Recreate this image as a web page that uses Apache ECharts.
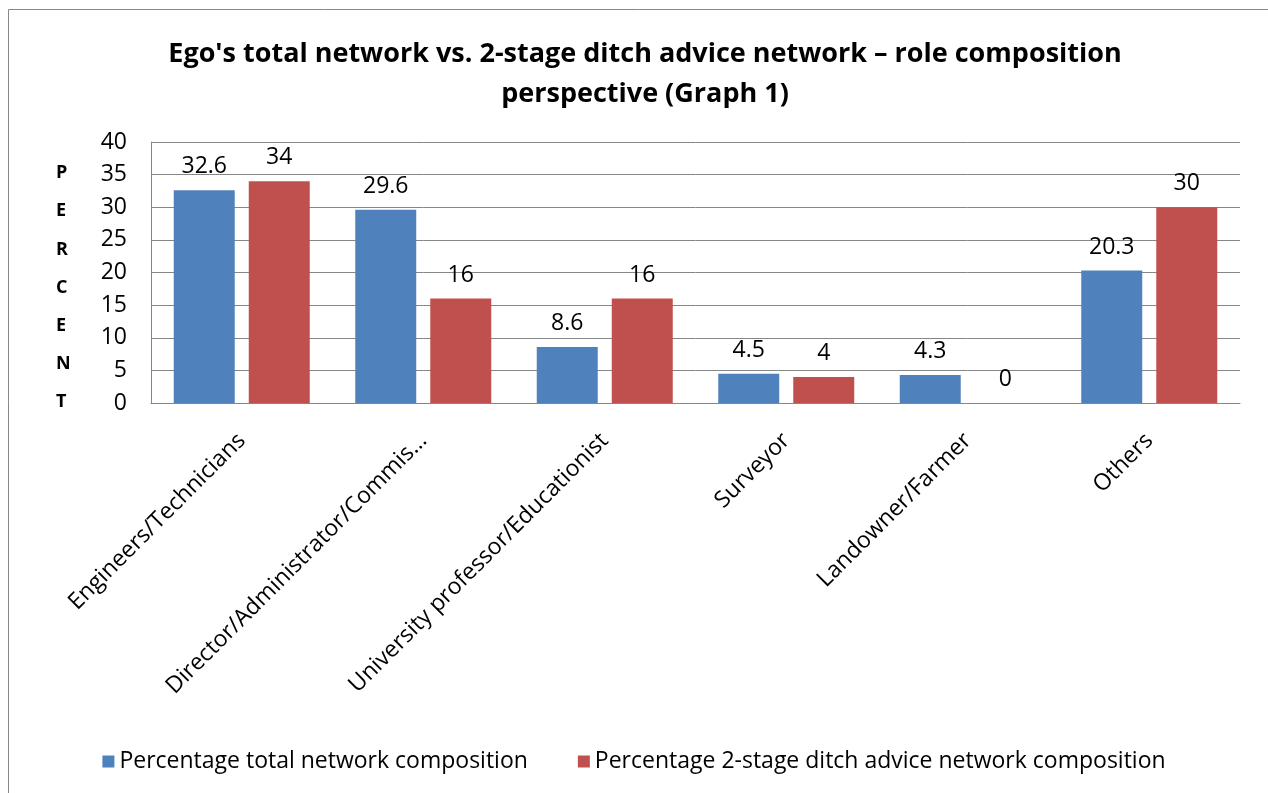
<!DOCTYPE html>
<html>
<head>
<meta charset="utf-8">
<script src="https://cdn.jsdelivr.net/npm/echarts@6/dist/echarts.min.js"></script>
<style>html,body{margin:0;padding:0;background:#fff;}#c{width:1268px;height:793px;}</style>
</head>
<body>
<div id="c"></div>
<script>
const categories = ["Engineers/Technicians", "Director/Administrator/Commis…", "University professor/Educationist", "Surveyor", "Landowner/Farmer", "Others"];
const totalNetwork = [32.6, 29.6, 8.6, 4.5, 4.3, 20.3];
const ditchNetwork = [34, 16, 16, 4, 0, 30];
const seriesNames = ["Percentage total network composition", "Percentage 2-stage ditch advice network composition"];
const yTicks = {min: 0, max: 40, interval: 5};

const FONT = 'Open Sans';
const chart = echarts.init(document.getElementById('c'));
chart.setOption({
  animation: false,
  textStyle: {fontFamily: FONT},
  title: {
    text: "Ego's total network vs. 2-stage ditch advice network – role composition\nperspective (Graph 1)",
    left: 640, top: 29, textAlign: 'center',
    textStyle: {fontFamily: FONT, fontWeight: 'bold', fontSize: 27, lineHeight: 40, color: '#000'}
  },
  graphic: [
    {type: 'rect', shape: {x: 8.5, y: 9.5, width: 1300, height: 900}, style: {fill: 'none', stroke: '#888', lineWidth: 1}, silent: true},
    {type: 'text', left: 56, top: 154, style: {text: 'P\nE\nR\nC\nE\nN\nT', font: 'bold 18px ' + FONT, lineHeight: 38.2, fill: '#000', align: 'center'}}
  ],
  legend: {
    bottom: 15, left: 'center', itemWidth: 12, itemHeight: 12, itemGap: 50,
    icon: 'rect',
    textStyle: {fontSize: 23, color: '#000', fontFamily: FONT},
    data: seriesNames
  },
  grid: {left: 151, right: 28, top: 142, bottom: 390, containLabel: false},
  xAxis: {
    type: 'category', data: categories,
    axisLine: {show: true, lineStyle: {color: '#868686'}},
    axisTick: {show: false},
    axisLabel: {rotate: 45, fontSize: 23, color: '#000', margin: 34, interval: 0}
  },
  yAxis: {
    type: 'value', min: yTicks.min, max: yTicks.max, interval: yTicks.interval,
    axisLine: {show: true, lineStyle: {color: '#868686'}},
    axisTick: {show: false},
    splitLine: {show: true, lineStyle: {color: '#868686', width: 1}},
    axisLabel: {fontSize: 23, color: '#000', margin: 24}
  },
  series: [
    {name: seriesNames[0], type: 'bar', data: totalNetwork, barWidth: '33.6%', barGap: '23%',
     itemStyle: {color: '#4F81BD'},
     label: {show: true, position: 'top', distance: 12, fontSize: 23, color: '#000', fontFamily: FONT}},
    {name: seriesNames[1], type: 'bar', data: ditchNetwork, barWidth: '33.6%',
     itemStyle: {color: '#C0504D'},
     label: {show: true, position: 'top', distance: 12, fontSize: 23, color: '#000', fontFamily: FONT}}
  ]
});
</script>
</body>
</html>
